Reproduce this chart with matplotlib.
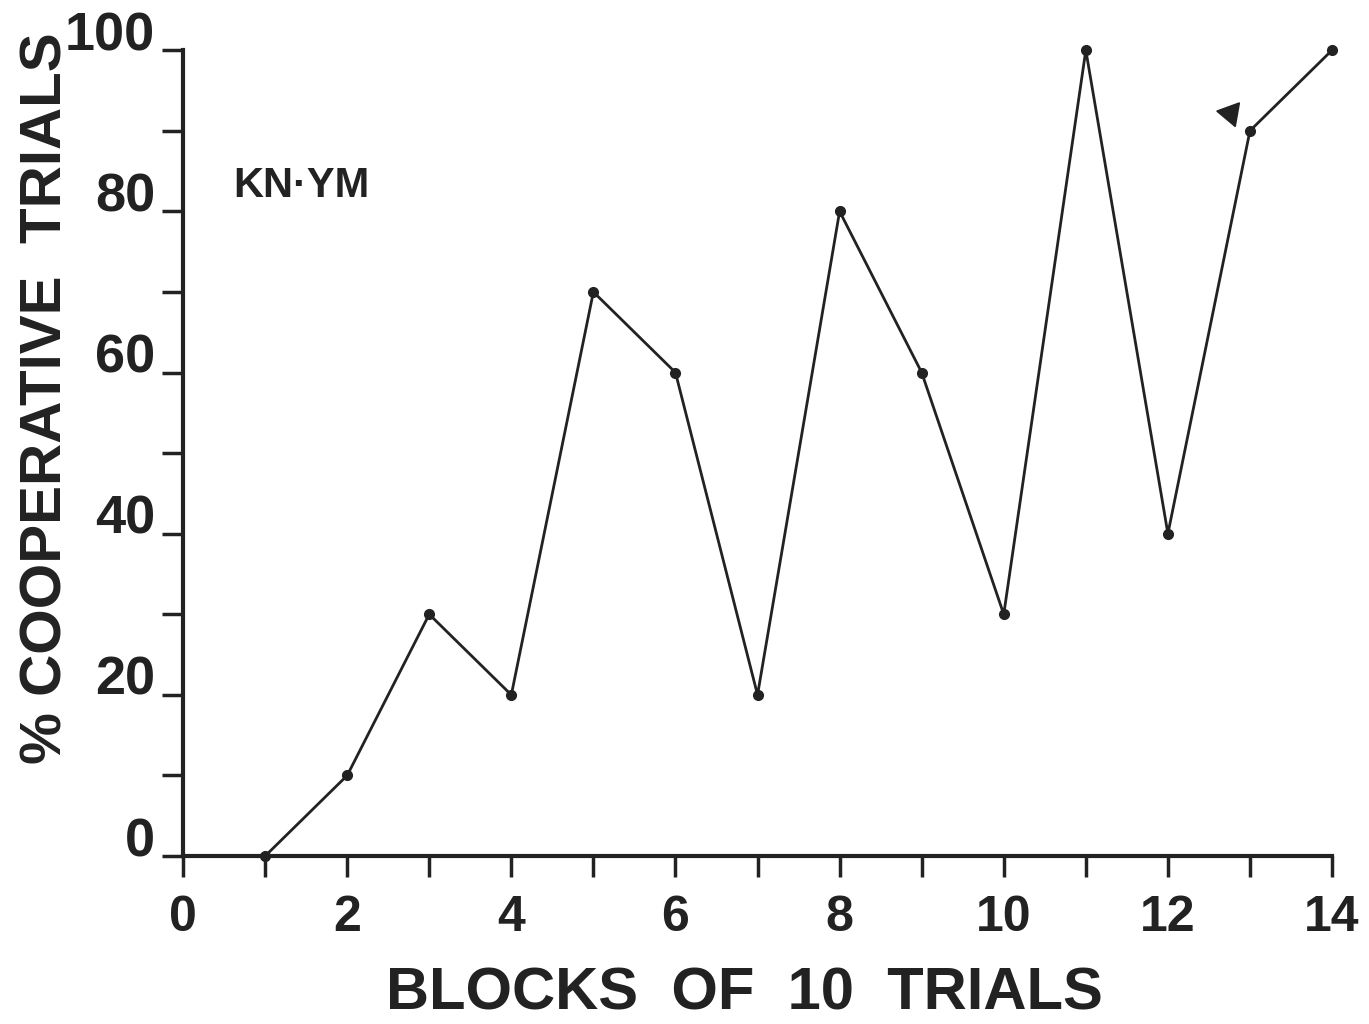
import matplotlib
matplotlib.use("Agg")
import matplotlib.pyplot as plt
import numpy as np

blocks = [1, 2, 3, 4, 5, 6, 7, 8, 9, 10, 11, 12, 13, 14]
pct_coop = [0, 10, 30, 20, 70, 60, 20, 80, 60, 30, 100, 40, 90, 100]
marker_pos = (12.76, 92.2)
x_ticks = [0, 2, 4, 6, 8, 10, 12, 14]
y_ticks = [0, 20, 40, 60, 80, 100]
label_text = "KN·YM"

ink = "#222222"
plt.rcParams['font.family'] = ['Liberation Sans', 'DejaVu Sans']
plt.rcParams['font.weight'] = 'bold'

fig = plt.figure(figsize=(13.69, 10.24), dpi=100)
ax = fig.add_axes([0.1337, 0.164, 0.973 - 0.1337, 0.951 - 0.164])

ax.plot(blocks, pct_coop, color=ink, lw=2, marker='o', ms=7, clip_on=False)
ax.plot([marker_pos[0]], [marker_pos[1]], marker=(3, 0, 80), ms=20, color=ink,
        linestyle='none', clip_on=False)

ax.set_xlim(0, 14)
ax.set_ylim(0, 100)
ax.set_xticks(x_ticks)
ax.set_xticks(np.arange(0, 15, 1), minor=True)
ax.set_yticks(y_ticks)
ax.set_yticks(np.arange(0, 101, 10), minor=True)
ax.set_xticklabels([str(v) for v in x_ticks])
ax.set_yticklabels([str(v) for v in y_ticks], va='baseline')

for s in ['top', 'right']:
    ax.spines[s].set_visible(False)
for s in ['left', 'bottom']:
    ax.spines[s].set_linewidth(3)
    ax.spines[s].set_color(ink)

ax.tick_params(axis='both', which='both', direction='out', length=15, width=2.5, color=ink)
ax.tick_params(axis='x', which='major', labelsize=36, pad=13, labelcolor=ink)
ax.tick_params(axis='y', which='major', labelsize=39, pad=5, labelcolor=ink)

ax.set_xlabel("BLOCKS  OF  10  TRIALS", fontsize=43, fontweight='bold', color=ink)
ax.xaxis.set_label_coords(0.489, -0.1365)
ax.set_ylabel("% COOPERATIVE  TRIALS", fontsize=42, fontweight='bold', color=ink)
ax.yaxis.set_label_coords(-0.0949, 0.568)

ax.text(0.0435, 0.8176, label_text, transform=ax.transAxes, fontsize=30,
        fontweight='bold', color=ink, va='baseline')

fig.savefig("out.png", dpi=100, facecolor='white')
